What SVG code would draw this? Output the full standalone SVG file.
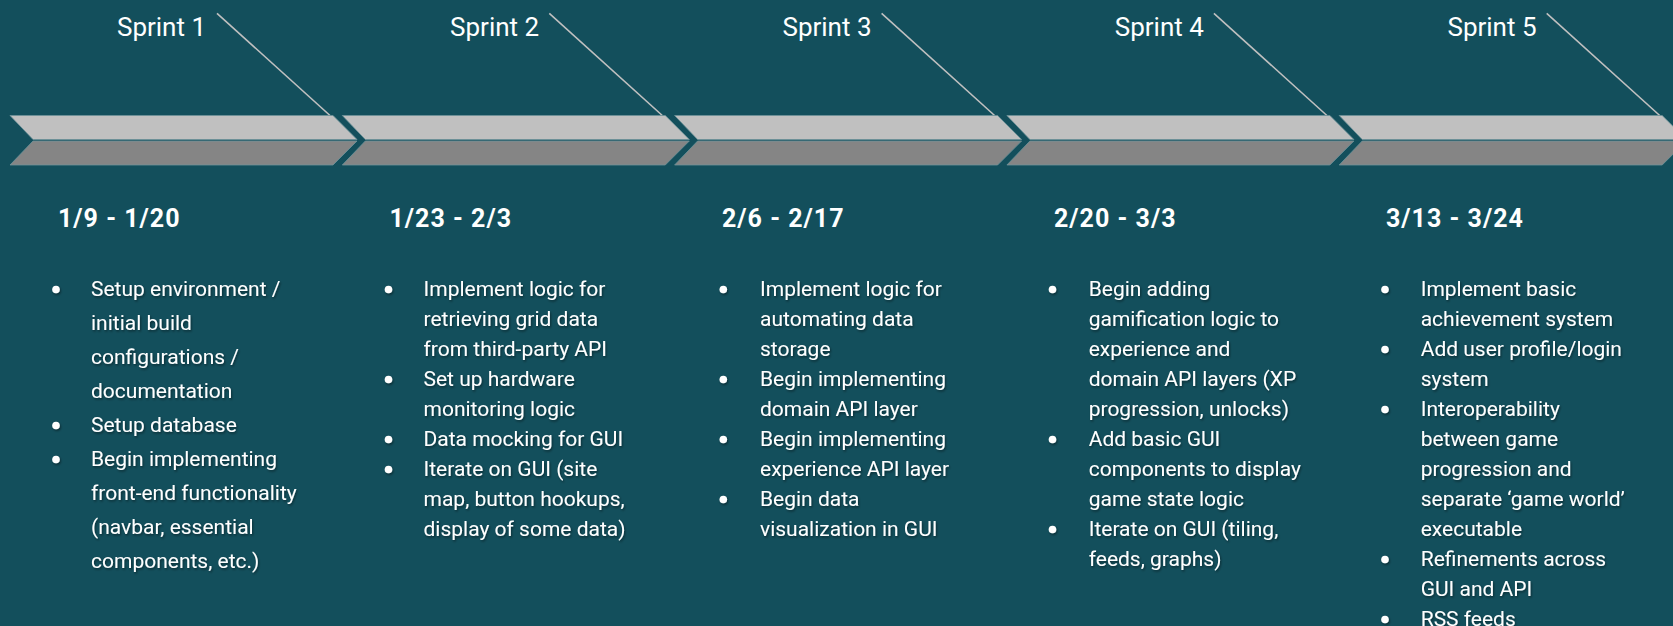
<svg xmlns="http://www.w3.org/2000/svg" width="1673" height="626" viewBox="0 0 1673 626">
<defs>
<style>
.bg{fill:#134f5c}
.up{fill:#c0c0c0;stroke:#6f9399;stroke-width:0.8}
.lo{fill:#858585;stroke:#6f9399;stroke-width:0.8}
.lead{stroke:#c0c0c0;stroke-width:1.6;fill:none}
.lbl{font-family:Roboto,"Liberation Sans",sans-serif;font-size:26px;fill:#ffffff;text-anchor:middle}
.date{font-family:Roboto,"Liberation Sans",sans-serif;font-size:25px;font-weight:bold;letter-spacing:1px;fill:#ffffff}
.body{font-family:Roboto,"Liberation Sans",sans-serif;font-size:21px;fill:#ffffff}
.dot{fill:#ffffff}
</style>
<filter id="sh" x="-10%" y="-10%" width="120%" height="130%">
<feDropShadow dx="1" dy="1.5" stdDeviation="1.2" flood-color="#000000" flood-opacity="0.45"/>
</filter>
<g id="chev">
<polygon class="up" points="0,115.5 323,115.5 347,139.5 23,139.5"/>
<polygon class="lo" points="23,141 347,141 323,165 0,165"/>
</g>
</defs>
<rect class="bg" x="0" y="0" width="1673" height="626"/>

<g id="connectors">
<line class="lead" x1="217" y1="13.3" x2="330" y2="115.5"/>
<line class="lead" x1="549.3" y1="13.3" x2="662.3" y2="115.5"/>
<line class="lead" x1="881.6" y1="13.3" x2="994.6" y2="115.5"/>
<line class="lead" x1="1213.9" y1="13.3" x2="1326.9" y2="115.5"/>
<line class="lead" x1="1546.7" y1="13.3" x2="1659.7" y2="115.5"/>
</g>

<g id="sprint1">
<use href="#chev" x="10"/>
<text class="lbl" x="161.5" y="36">Sprint 1</text>
<text class="date" x="58" y="227">1/9 - 1/20</text>
<g filter="url(#sh)">
<circle class="dot" cx="56" cy="289.5" r="3.8"/>
<circle class="dot" cx="56" cy="425.5" r="3.8"/>
<circle class="dot" cx="56" cy="459.5" r="3.8"/>
<text class="body" x="91" y="296">
<tspan x="91" y="296">Setup environment /</tspan>
<tspan x="91" y="330">initial build</tspan>
<tspan x="91" y="364">configurations /</tspan>
<tspan x="91" y="398">documentation</tspan>
<tspan x="91" y="432">Setup database</tspan>
<tspan x="91" y="466">Begin implementing</tspan>
<tspan x="91" y="500">front-end functionality</tspan>
<tspan x="91" y="534">(navbar, essential</tspan>
<tspan x="91" y="568">components, etc.)</tspan>
</text>
</g>
</g>

<g id="sprint2">
<use href="#chev" x="342.3"/>
<text class="lbl" x="494.6" y="36">Sprint 2</text>
<text class="date" x="389.5" y="227">1/23 - 2/3</text>
<g filter="url(#sh)">
<circle class="dot" cx="388.5" cy="289.5" r="3.8"/>
<circle class="dot" cx="388.5" cy="379.5" r="3.8"/>
<circle class="dot" cx="388.5" cy="439.5" r="3.8"/>
<circle class="dot" cx="388.5" cy="469.5" r="3.8"/>
<text class="body" x="423.5" y="296">
<tspan x="423.5" y="296">Implement logic for</tspan>
<tspan x="423.5" y="326">retrieving grid data</tspan>
<tspan x="423.5" y="356">from third-party API</tspan>
<tspan x="423.5" y="386">Set up hardware</tspan>
<tspan x="423.5" y="416">monitoring logic</tspan>
<tspan x="423.5" y="446">Data mocking for GUI</tspan>
<tspan x="423.5" y="476">Iterate on GUI (site</tspan>
<tspan x="423.5" y="506">map, button hookups,</tspan>
<tspan x="423.5" y="536">display of some data)</tspan>
</text>
</g>
</g>

<g id="sprint3">
<use href="#chev" x="674.6"/>
<text class="lbl" x="827" y="36">Sprint 3</text>
<text class="date" x="722" y="227">2/6 - 2/17</text>
<g filter="url(#sh)">
<circle class="dot" cx="723.3" cy="289.5" r="3.8"/>
<circle class="dot" cx="723.3" cy="379.5" r="3.8"/>
<circle class="dot" cx="723.3" cy="439.5" r="3.8"/>
<circle class="dot" cx="723.3" cy="499.5" r="3.8"/>
<text class="body" x="760" y="296">
<tspan x="760" y="296">Implement logic for</tspan>
<tspan x="760" y="326">automating data</tspan>
<tspan x="760" y="356">storage</tspan>
<tspan x="760" y="386">Begin implementing</tspan>
<tspan x="760" y="416">domain API layer</tspan>
<tspan x="760" y="446">Begin implementing</tspan>
<tspan x="760" y="476">experience API layer</tspan>
<tspan x="760" y="506">Begin data</tspan>
<tspan x="760" y="536">visualization in GUI</tspan>
</text>
</g>
</g>

<g id="sprint4">
<use href="#chev" x="1006.9"/>
<text class="lbl" x="1159.3" y="36">Sprint 4</text>
<text class="date" x="1054" y="227">2/20 - 3/3</text>
<g filter="url(#sh)">
<circle class="dot" cx="1052.5" cy="289.5" r="3.8"/>
<circle class="dot" cx="1052.5" cy="439.5" r="3.8"/>
<circle class="dot" cx="1052.5" cy="529.5" r="3.8"/>
<text class="body" x="1088.7" y="296">
<tspan x="1088.7" y="296">Begin adding</tspan>
<tspan x="1088.7" y="326">gamification logic to</tspan>
<tspan x="1088.7" y="356">experience and</tspan>
<tspan x="1088.7" y="386">domain API layers (XP</tspan>
<tspan x="1088.7" y="416">progression, unlocks)</tspan>
<tspan x="1088.7" y="446">Add basic GUI</tspan>
<tspan x="1088.7" y="476">components to display</tspan>
<tspan x="1088.7" y="506">game state logic</tspan>
<tspan x="1088.7" y="536">Iterate on GUI (tiling,</tspan>
<tspan x="1088.7" y="566">feeds, graphs)</tspan>
</text>
</g>
</g>

<g id="sprint5">
<use href="#chev" x="1339.2"/>
<text class="lbl" x="1492" y="36">Sprint 5</text>
<text class="date" x="1386" y="227">3/13 - 3/24</text>
<g filter="url(#sh)">
<circle class="dot" cx="1385" cy="289.5" r="3.8"/>
<circle class="dot" cx="1385" cy="349.5" r="3.8"/>
<circle class="dot" cx="1385" cy="409.5" r="3.8"/>
<circle class="dot" cx="1385" cy="559.5" r="3.8"/>
<circle class="dot" cx="1385" cy="619.5" r="3.8"/>
<text class="body" x="1420.7" y="296">
<tspan x="1420.7" y="296">Implement basic</tspan>
<tspan x="1420.7" y="326">achievement system</tspan>
<tspan x="1420.7" y="356">Add user profile/login</tspan>
<tspan x="1420.7" y="386">system</tspan>
<tspan x="1420.7" y="416">Interoperability</tspan>
<tspan x="1420.7" y="446">between game</tspan>
<tspan x="1420.7" y="476">progression and</tspan>
<tspan x="1420.7" y="506">separate ‘game world’</tspan>
<tspan x="1420.7" y="536">executable</tspan>
<tspan x="1420.7" y="566">Refinements across</tspan>
<tspan x="1420.7" y="596">GUI and API</tspan>
<tspan x="1420.7" y="626">RSS feeds</tspan>
</text>
</g>
</g>
</svg>
